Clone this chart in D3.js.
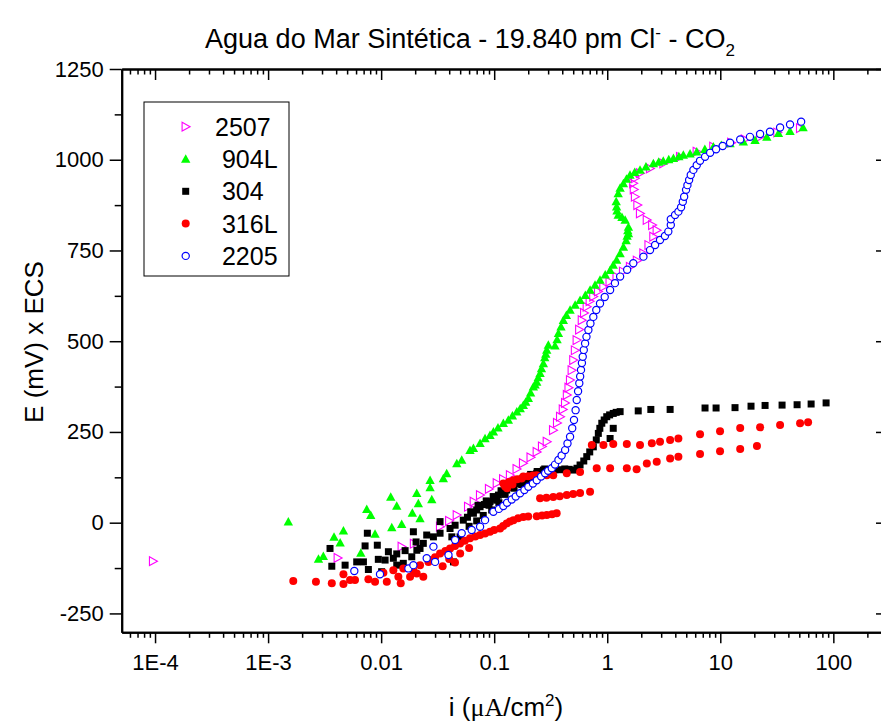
<!DOCTYPE html>
<html>
<head>
<meta charset="utf-8">
<script src="https://cdn.jsdelivr.net/npm/d3@7"></script>
<style>
  body { margin: 0; background: #fff; }
  text { font-family: "Liberation Sans", Arial, sans-serif; fill: #000; }
</style>
</head>
<body>
<div id="chart"></div>
<script>
// ---- data (i in uA/cm2, E in mV x ECS) ----
var seriesNames = ["2507", "904L", "304", "316L", "2205"];

var s2507 = [[9.6e-5,-106],[0.00413,-97],[0.0152,-66],[0.0195,-58],[0.0332,-11],[0.040,5],[0.0467,21],[0.0588,44],
  [0.066,58],[0.075,76],[0.09,93],[0.1055,109],[0.12,120],[0.138,131],[0.158,148],[0.18,164],[0.21,180],[0.238,195],
  [0.265,210],[0.292,223],[0.332,255],[0.36,275],[0.383,292],[0.405,312],[0.424,330],[0.44,352],[0.455,372],[0.469,393],
  [0.485,420],[0.501,448],[0.518,475],[0.537,503],[0.565,532],[0.596,558],[0.625,578],[0.659,595],[0.70,610],[0.753,623],
  [0.83,637],[0.925,650],[1.05,664],[1.21,678],[1.38,692],[1.59,705],[1.83,722],[2.09,742],[2.32,765],[2.56,788],
  [2.74,806],[2.5,820],[2.24,834],[1.95,852],[1.85,875],[1.76,898],[1.72,918],[1.70,935],[1.76,949],[1.95,963],
  [2.39,976],[3.14,990],[4.41,1008],[6.19,1022],[8.68,1036],[12.5,1047],[16.5,1056],[22.5,1063],[32,1075],[50.8,1087]];

var s904L = [[0.00151,3],[0.00279,-100],[0.00308,-92],[0.00383,-39],[0.00434,-55],[0.00464,-22],[0.00661,-83],
  [0.00746,37],[0.00809,21],[0.00883,-31],[0.01216,71],[0.01374,46],[0.01242,-13],[0.0152,-4],[0.01888,27],[0.02133,53],
  [0.02065,81],[0.02208,12],[0.0271,117],[0.0271,97],[0.02805,64],[0.0355,122],[0.038,136],[0.0467,163],[0.0516,173],
  [0.0611,200],[0.0655,205],[0.075,219],[0.083,232],[0.0918,241],[0.0984,251],[0.108,262],[0.1205,274],[0.1334,283],
  [0.145,295],[0.1585,306],[0.17,315],[0.181,324],[0.19,333],[0.2005,343],[0.21,358],[0.222,375],[0.23,380],[0.238,388],
  [0.245,400],[0.2547,412],[0.262,425],[0.2723,439],[0.28,455],[0.286,465],[0.2917,476],[0.3013,490],
  [0.345,488],[0.36,505],[0.37,522],[0.39,540],[0.409,558],[0.435,572],[0.469,586],[0.52,600],[0.575,613],[0.64,627],
  [0.705,641],[0.78,655],[0.863,669],[0.96,683],[1.06,696],[1.13,710],[1.21,724],[1.3,742],[1.39,760],[1.47,778],
  [1.5,790],[1.54,797],[1.52,805],[1.54,815],[1.44,834],[1.35,842],[1.25,848],[1.22,860],[1.21,871],[1.2,885],
  [1.25,907],[1.3,922],[1.39,935],[1.48,947],[1.59,958],[1.75,966],[1.95,972],[2.2,981],[2.56,990],[2.85,994],
  [3.13,997],[3.5,1001],[3.85,1004],[4.3,1009],[4.71,1013],[5.4,1017],[6.19,1022],[7.3,1029],[8.68,1036],[10.2,1040],
  [12.2,1045],[16,1050],[20.3,1054],[25.8,1063],[32.7,1073],[41.4,1079],[54,1089]];

var s304 = [[0.00353,-71],[0.00366,-120],[0.0048,-117],[0.00608,-108],[0.00697,-108],[0.00755,-29],[0.00721,-64],
  [0.00925,-62],[0.00944,-101],[0.00771,-129],[0.01159,-80],[0.01282,-98],[0.01374,-86],[0.0163,-77],[0.01928,-25],
  [0.02037,-53],[0.02208,-71],[0.0253,-34],[0.0101,-135],[0.01084,-103],[0.01374,-117],[0.0157,-112],[0.01866,-94],
  [0.0207,-76],[0.0236,-57],[0.029,-39],[0.0332,-29],[0.0332,3],[0.0407,-16],[0.0422,-39],[0.0436,-108],[0.0451,-7],
  [0.0499,-39],[0.0533,7],[0.058,15],[0.06,-10],[0.062,30],[0.0655,26],[0.07,35],[0.07,5],[0.072,48],[0.075,44],
  [0.08,20],[0.082,50],[0.085,60],[0.09,48],[0.0918,58],[0.095,35],[0.098,72],[0.1,67],[0.105,62],[0.109,76],[0.11,55],
  [0.115,88],[0.118,83],[0.125,78],[0.129,90],[0.135,100],[0.138,97],[0.148,104],[0.15,95],[0.155,112],[0.16,108],
  [0.175,105],[0.18,122],[0.181,113],[0.195,120],[0.2,115],[0.2075,127],[0.21,133],[0.22,132],[0.23,126],[0.238,136],
  [0.24,141],[0.255,140],[0.26,135],[0.2723,145],[0.28,148],[0.3,146],[0.345,146],
  [0.38,146],[0.421,148],[0.46,147],[0.501,145],[0.54,150],[0.575,159],[0.62,170],[0.659,182],[0.7,195],[0.753,209],
  [0.8,228],[0.834,246],[0.86,260],[0.895,274],[0.94,283],[0.99,292],[1.05,297],[1.13,301],[1.2,304],[1.30,306],
  [1.13,260],[1.06,232],[1.88,308],[2.43,312],[3.60,312],[7.33,316],[9.18,316],[13.5,317],[18.7,321],[24.9,323],
  [35.2,324],[47.8,325],[63.6,327],[86.3,330]];

var s316L = [[0.00167,-161],[0.00265,-163],[0.00366,-167],[0.00464,-142],[0.00464,-169],[0.00531,-158],[0.00587,-158],
  [0.00771,-156],[0.00883,-163],[0.01047,-138],[0.01122,-163],[0.01282,-131],[0.0142,-149],[0.0149,-167],[0.0157,-126],
  [0.01803,-149],[0.01928,-131],[0.02065,-140],[0.02208,-117],[0.0236,-149],[0.0262,-108],[0.0271,-103],[0.03,-95],
  [0.035,-120],[0.0332,-85],[0.037,-78],[0.04,-100],[0.0407,-71],[0.045,-64],[0.045,-110],[0.0499,-57],[0.05,-85],
  [0.055,-50],[0.06,-70],[0.0611,-43],[0.068,-38],[0.075,-34],[0.083,-30],[0.0918,-25],[0.1,-20],[0.1127,-16],
  [0.12,-9],[0.129,-2],[0.138,3],[0.148,7],[0.163,12],[0.181,16],[0.2,17],[0.238,18],[0.265,20],[0.292,21],[0.325,23],
  [0.357,26],
  [0.2547,67],[0.29,69],[0.333,71],[0.38,73],[0.4385,76],[0.5,79],[0.575,82],[0.705,85],
  [0.1205,108],[0.125,100],[0.13,95],[0.135,112],[0.145,105],[0.148,117],[0.16,120],[0.175,122],[0.181,127],
  [0.2,128],[0.22,130],[0.238,131],[0.292,131],[0.333,131],[0.4385,136],[0.575,140],[0.807,150],
  [1.06,150],[1.49,150],[1.82,147],[2.24,163],[2.74,168],[3.6,177],[4.26,182],[6.62,189],[9.95,197],[15,203],[21.1,211],
  [0.73,214],[0.925,214],[1.13,217],[1.49,217],[1.95,214],[2.48,219],[2.93,223],[3.6,228],[4.26,232],[6.62,244],
  [9.95,252],[15,261],[22.5,263],[33.8,269],[50.8,274],[59.8,277]];

var s2205 = [[0.00579,-133],[0.00977,-142],[0.01742,-126],[0.01928,-117],[0.0253,-98],[0.030,-108],[0.029,-66],
  [0.0394,-89],[0.0451,-48],[0.0516,-29],[0.0632,-20],[0.075,-11],[0.083,7],[0.0984,30],[0.11,38],[0.1205,46],
  [0.13,55],[0.143,64],[0.155,72],[0.1694,81],[0.185,90],[0.2005,99],[0.22,108],[0.238,117],[0.26,127],[0.282,136],
  [0.3,143],[0.323,150],[0.345,160],[0.37,173],[0.395,185],[0.424,200],[0.445,218],[0.469,237],[0.49,260],[0.508,283],
  [0.525,310],[0.537,338],[0.552,362],[0.566,384],[0.576,403],[0.586,421],[0.597,440],[0.607,457],[0.62,476],
  [0.637,494],[0.655,512],[0.681,531],[0.71,549],[0.753,567],[0.8,586],[0.863,604],[0.95,622],[1.06,641],[1.17,660],
  [1.30,678],[1.5,697],[1.70,715],[2.09,733],[2.39,751],[2.65,765],[2.93,779],[3.24,790],[3.47,802],[3.65,820],
  [3.65,836],[3.98,848],[4.26,857],[4.50,869],[4.66,884],[4.79,898],[4.98,917],[5.12,930],[5.30,944],[5.48,958],
  [5.78,972],[6.19,985],[6.62,997],[7.33,1008],[8.13,1019],[9.18,1029],[10.5,1038],[12.2,1047],[15.0,1056],
  [18.3,1063],[22.5,1071],[27.5,1077],[33.8,1089],[41.4,1097],[51.9,1105]];

var xTickValues = [1e-4, 1e-3, 0.01, 0.1, 1, 10, 100];
var xTickLabels = ["1E-4", "1E-3", "0.01", "0.1", "1", "10", "100"];
var yTickValues = [-250, 0, 250, 500, 750, 1000, 1250];

// ---- layout ----
var W = 881, H = 722;
var frame = { left: 121.7, right: 883, top: 69, bottom: 632.3 };

var svg = d3.select("#chart").append("svg")
  .attr("width", W).attr("height", H);

var xScale = d3.scaleLog().domain([5.07e-5, 275]).range([frame.left, frame.right]);
var yScale = d3.scaleLinear().domain([-302, 1250]).range([frame.bottom, frame.top]);

// minor ticks
var xMinor = [];
for (var k = -5; k <= 2; k++) {
  for (var m = 2; m <= 9; m++) {
    var v = m * Math.pow(10, k);
    if (v > xScale.domain()[0] && v < xScale.domain()[1]) xMinor.push(v);
  }
}
var yMinor = d3.range(-250, 1251, 125).filter(function(d) { return d % 250 !== 0; });

function styleAxis(g) {
  g.selectAll(".domain").attr("stroke", "#000").attr("stroke-width", 2);
  g.selectAll(".tick line").attr("stroke", "#000").attr("stroke-width", 1.5);
  g.selectAll(".tick text").style("font-size", "22px").attr("fill", "#000");
}

// bottom
svg.append("g").attr("transform", "translate(0," + frame.bottom + ")")
  .call(d3.axisBottom(xScale).tickValues(xMinor).tickFormat("").tickSizeInner(5.5).tickSizeOuter(0))
  .call(styleAxis);
svg.append("g").attr("transform", "translate(0," + frame.bottom + ")")
  .call(d3.axisBottom(xScale).tickValues(xTickValues)
        .tickFormat(function(d, i) { return xTickLabels[i]; })
        .tickSizeInner(11).tickSizeOuter(0).tickPadding(11))
  .call(styleAxis);
// top (ticks inward)
svg.append("g").attr("transform", "translate(0," + frame.top + ")")
  .call(d3.axisBottom(xScale).tickValues(xMinor).tickFormat("").tickSizeInner(5.5).tickSizeOuter(0))
  .call(styleAxis);
svg.append("g").attr("transform", "translate(0," + frame.top + ")")
  .call(d3.axisBottom(xScale).tickValues(xTickValues).tickFormat("").tickSizeInner(11).tickSizeOuter(0))
  .call(styleAxis);
// left
svg.append("g").attr("transform", "translate(" + frame.left + ",0)")
  .call(d3.axisLeft(yScale).tickValues(yMinor).tickFormat("").tickSizeInner(7).tickSizeOuter(0))
  .call(styleAxis);
svg.append("g").attr("transform", "translate(" + frame.left + ",0)")
  .call(d3.axisLeft(yScale).tickValues(yTickValues).tickFormat(function(d) { return String(d); })
        .tickSizeInner(12).tickSizeOuter(0).tickPadding(6))
  .call(styleAxis);
// right (ticks inward)
svg.append("g").attr("transform", "translate(" + frame.right + ",0)")
  .call(d3.axisLeft(yScale).tickValues(yTickValues).tickFormat("").tickSizeInner(7).tickSizeOuter(0))
  .call(styleAxis);

// ---- markers ----
function triRight(s) { return "M" + (-s * 0.45) + "," + (-s * 0.55) + "L" + (s * 0.55) + ",0L" + (-s * 0.45) + "," + (s * 0.55) + "Z"; }
function triUp(s) { return "M0," + (-s * 0.55) + "L" + (s * 0.55) + "," + (s * 0.45) + "L" + (-s * 0.55) + "," + (s * 0.45) + "Z"; }
function square(s) { var h = s / 2; return "M" + (-h) + "," + (-h) + "h" + s + "v" + s + "h" + (-s) + "Z"; }

var styles = {
  "2507": { path: triRight(8), fill: "none", stroke: "#ff00ff", sw: 1.1 },
  "904L": { path: triUp(8.5), fill: "#00ff00", stroke: "none", sw: 0 },
  "304":  { path: square(7), fill: "#000", stroke: "none", sw: 0 },
  "316L": { r: 4, fill: "#ff0000", stroke: "none", sw: 0 },
  "2205": { r: 3.6, fill: "#fff", stroke: "#0000ff", sw: 1.2 }
};
var seriesData = { "2507": s2507, "904L": s904L, "304": s304, "316L": s316L, "2205": s2205 };

function drawMarker(sel, st) {
  if (st.r) {
    sel.append("circle").attr("r", st.r);
  } else {
    sel.append("path").attr("d", st.path);
  }
  sel.selectAll("circle, path")
    .attr("fill", st.fill).attr("stroke", st.stroke).attr("stroke-width", st.sw);
}

var plot = svg.append("g");
seriesNames.forEach(function(name) {
  var st = styles[name];
  plot.append("g").attr("class", "series")
    .selectAll("g")
    .data(seriesData[name])
    .enter().append("g")
    .attr("transform", function(d) { return "translate(" + xScale(d[0]) + "," + yScale(d[1]) + ")"; })
    .each(function() { drawMarker(d3.select(this), st); });
});

// ---- legend ----
var legend = svg.append("g").attr("transform", "translate(144,102)");
legend.append("rect").attr("width", 145).attr("height", 174)
  .attr("fill", "#fff").attr("stroke", "#000").attr("stroke-width", 1);
var legendLabels = ["2507", " 904L", " 304", " 316L", " 2205"];
seriesNames.forEach(function(name, i) {
  var row = legend.append("g").attr("transform", "translate(0," + (24.7 + i * 32.3) + ")");
  var mk = row.append("g").attr("transform", "translate(41.7,0)");
  drawMarker(mk, styles[name]);
  row.append("text").attr("x", 71).attr("y", 9)
    .attr("xml:space", "preserve")
    .style("font-size", "25px")
    .text(legendLabels[i]);
});

// ---- titles ----
var title = svg.append("text").attr("x", 470).attr("y", 48)
  .attr("text-anchor", "middle").style("font-size", "27px");
title.append("tspan").text("Agua do Mar Sintética - 19.840 pm Cl");
title.append("tspan").attr("dy", -10).style("font-size", "17px").text("-");
title.append("tspan").attr("dy", 10).text(" - CO");
title.append("tspan").attr("dy", 8).style("font-size", "17px").text("2");

var xl = svg.append("text").attr("x", 506).attr("y", 716)
  .attr("text-anchor", "middle").style("font-size", "26px");
xl.append("tspan").text("i (");
xl.append("tspan").style("font-family", "'Liberation Serif', 'Times New Roman', serif").text("\u03bcA");
xl.append("tspan").text("/cm");
xl.append("tspan").attr("dy", -10).style("font-size", "17px").text("2");
xl.append("tspan").attr("dy", 10).text(")");

svg.append("text")
  .attr("transform", "translate(43,342) rotate(-90)")
  .attr("text-anchor", "middle").style("font-size", "26px")
  .text("E (mV) x ECS");
</script>
</body>
</html>
